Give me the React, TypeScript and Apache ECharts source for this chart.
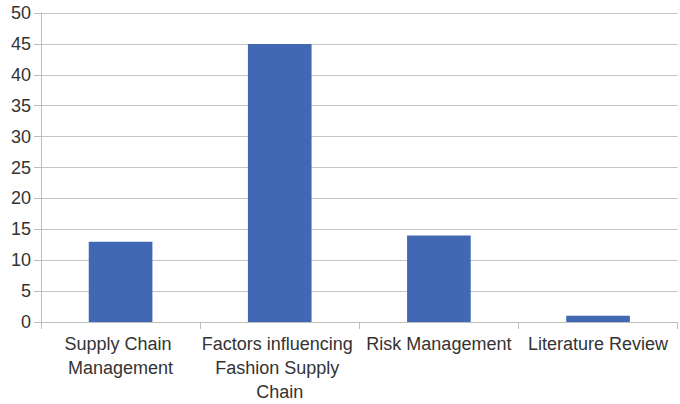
import React, { useEffect, useRef } from "react";
import * as echarts from "echarts";

const categories = [
  "Supply Chain Management",
  "Factors influencing Fashion Supply Chain",
  "Risk Management",
  "Literature Review",
];
const values = [13, 45, 14, 1];

export default function App() {
  const ref = useRef<HTMLDivElement>(null);
  useEffect(() => {
    document.body.style.margin = "0";
    const chart = echarts.init(ref.current!, null, { renderer: "svg" });
    chart.setOption({
      animation: false,
      grid: { left: 41, top: 13, right: -6, bottom: 81, containLabel: false },
      xAxis: {
        type: "category",
        data: categories,
        axisLine: { lineStyle: { color: "#bdbdbd", width: 1 } },
        axisTick: { show: true, length: 7, lineStyle: { color: "#bdbdbd" } },
        axisLabel: {
          interval: 0,
          margin: 10,
          width: 160,
          overflow: "break",
          color: "#333",
          fontSize: 18,
          lineHeight: 24,
          fontFamily: "Liberation Sans, Arial, sans-serif",
        },
      },
      yAxis: {
        type: "value",
        min: 0,
        max: 50,
        interval: 5,
        axisLine: { show: true, lineStyle: { color: "#bdbdbd", width: 1 } },
        axisTick: { show: true, length: 7, lineStyle: { color: "#bdbdbd" } },
        splitLine: { lineStyle: { color: "#c4c4c4", width: 1 } },
        axisLabel: {
          margin: 10,
          color: "#333",
          fontSize: 18,
          fontFamily: "Liberation Sans, Arial, sans-serif",
        },
      },
      series: [
        {
          type: "bar",
          data: values,
          barWidth: "40%",
          itemStyle: { color: "#4169B3" },
        },
      ],
    });
    return () => chart.dispose();
  }, []);
  return <div ref={ref} style={{ width: 680, height: 404 }} />;
}
